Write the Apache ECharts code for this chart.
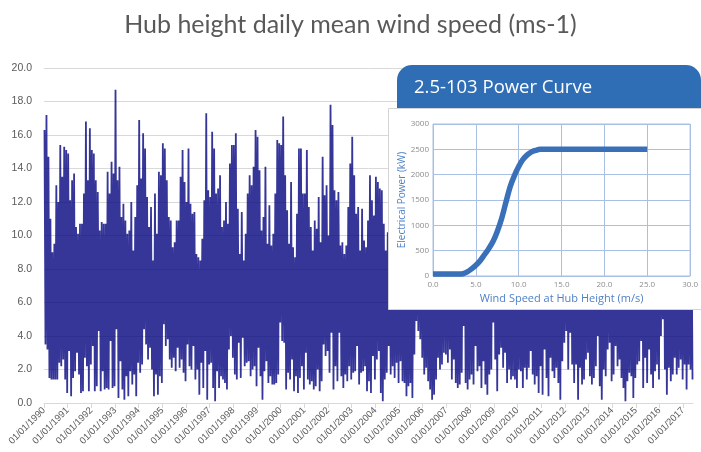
<!DOCTYPE html>
<html>
<head>
<meta charset="utf-8">
<script src="https://cdn.jsdelivr.net/npm/echarts@6/dist/echarts.min.js"></script>
<style>
html,body{margin:0;padding:0;background:#fff;}
#chart{width:701px;height:452px;}
</style>
</head>
<body>
<div id="chart"></div>
<script>
// Monthly upper envelope of daily mean wind speed (m/s), Jan 1990 .. May 2017
const monthlyHigh = [
  16.3, 17.2, 14.7, 11.0, 9.0, 9.5, 13.0, 12.0, 15.4, 13.5, 15.3, 15.1,
  14.9, 12.1, 13.3, 13.7, 10.5, 10.1, 10.7, 10.7, 12.5, 16.8, 13.3, 16.4,
  15.1, 14.9, 13.3, 12.6, 10.3, 10.8, 10.7, 10.7, 13.8, 12.5, 14.4, 13.7,
  18.7, 13.3, 14.1, 11.1, 11.9, 10.9, 10.1, 10.3, 12.0, 9.1, 11.1, 13.0,
  16.9, 13.4, 16.1, 15.2, 12.3, 10.5, 11.7, 8.5, 12.5, 10.1, 13.8, 13.6,
  15.5, 15.2, 13.3, 11.1, 10.9, 9.3, 9.6, 10.9, 10.9, 13.5, 15.1, 13.2,
  12.0, 15.2, 11.9, 11.3, 11.4, 8.9, 8.7, 8.5, 9.8, 12.1, 17.3, 12.7,
  12.3, 16.2, 15.2, 12.5, 12.8, 13.6, 10.5, 10.9, 12.0, 10.7, 14.3, 15.4,
  15.4, 16.1, 11.6, 8.9, 11.4, 8.5, 10.1, 12.5, 13.6, 13.0, 14.1, 16.3,
  15.9, 13.9, 10.3, 11.1, 14.1, 9.5, 11.8, 9.4, 10.1, 12.5, 15.7, 15.5,
  15.4, 17.1, 13.6, 11.5, 9.5, 13.2, 9.3, 8.7, 11.3, 15.2, 15.2, 12.5,
  12.5, 15.1, 11.7, 10.5, 9.1, 10.9, 10.4, 12.3, 9.6, 14.7, 12.4, 13.0,
  10.0, 17.8, 16.6, 12.7, 12.1, 12.6, 9.4, 9.6, 8.9, 9.4, 11.7, 14.3,
  15.9, 13.6, 11.3, 11.7, 9.1, 11.6, 9.7, 9.3, 10.9, 13.6, 12.1, 11.2,
  13.5, 13.2, 12.8, 12.7, 10.7, 9.1, 10.2, 10.5, 11.5, 13.0, 14.5, 15.0,
  15.5, 14.0, 13.0, 11.5, 10.5, 9.5, 9.8, 10.2, 11.5, 12.5, 14.0, 14.8,
  13.8, 12.5, 14.2, 11.8, 11.0, 9.6, 9.2, 10.4, 11.2, 13.5, 14.6, 15.2,
  16.0, 14.4, 13.1, 10.8, 11.4, 9.8, 10.6, 9.9, 11.8, 12.2, 14.9, 13.6,
  15.8, 16.2, 14.0, 11.6, 9.7, 10.5, 9.9, 11.0, 12.4, 13.3, 14.1, 13.0,
  14.6, 12.8, 13.9, 11.2, 10.9, 9.5, 10.3, 11.7, 10.8, 12.9, 15.7, 12.4,
  11.6, 12.2, 13.4, 10.6, 9.9, 9.2, 10.1, 10.7, 12.5, 12.0, 13.8, 11.3,
  13.2, 14.9, 12.1, 11.0, 12.6, 10.4, 9.6, 10.2, 12.9, 13.7, 14.5, 16.4,
  15.1, 13.0, 12.3, 11.8, 10.2, 10.9, 9.4, 9.8, 11.6, 12.7, 13.5, 14.2,
  13.9, 12.6, 11.7, 12.0, 10.8, 9.9, 10.0, 9.7, 11.3, 13.6, 14.1, 16.8,
  15.9, 16.3, 13.5, 11.1, 10.3, 9.6, 9.3, 10.9, 10.2, 13.2, 12.8, 15.0,
  16.1, 14.4, 13.8, 11.5, 12.2, 10.6, 10.1, 11.4, 10.0, 11.9, 15.3, 16.0,
  15.2, 14.7, 12.4, 11.3, 10.0, 9.5, 9.8, 10.6, 11.1, 11.7, 13.4, 14.6,
  15.4, 14.9, 13.7, 11.6, 10.8
];
// Monthly lower envelope
const monthlyLow = [
  3.5, 3.2, 1.5, 1.4, 1.4, 1.4, 1.4, 2.4, 2.2, 2.6, 1.4, 0.6,
  3.1, 0.4, 1.5, 1.9, 3.0, 1.7, 0.6, 0.7, 2.7, 2.2, 0.7, 2.3,
  3.4, 0.7, 1.0, 4.3, 0.7, 1.9, 0.8, 0.9, 0.8, 3.7, 0.9, 1.0,
  4.4, 0.3, 2.5, 0.8, 0.2, 1.6, 0.4, 1.9, 1.1, 1.7, 0.4, 2.4,
  1.8, 2.3, 4.4, 3.5, 2.6, 3.3, 2.0, 0.4, 1.7, 0.5, 1.6, 1.2,
  4.7, 3.4, 3.8, 2.6, 2.1, 2.7, 1.9, 3.3, 2.1, 2.6, 1.8, 1.3,
  3.5, 2.2, 2.0, 3.4, 1.4, 2.0, 0.5, 2.4, 0.9, 3.1, 0.2, 2.3,
  2.4, 0.9, 0.1, 1.9, 0.9, 1.6, 1.4, 1.2, 0.8, 3.2, 4.0, 2.7,
  1.7, 1.4, 3.6, 1.5, 3.9, 2.2, 2.4, 2.5, 1.6, 2.0, 2.2, 1.0,
  3.3, 1.6, 0.2, 1.9, 2.5, 1.2, 1.6, 1.1, 1.1, 1.2, 1.7, 4.8,
  3.7, 3.6, 0.8, 1.8, 1.4, 2.6, 0.7, 1.6, 0.6, 1.5, 2.2, 0.8,
  3.0, 1.4, 1.1, 1.3, 0.8, 1.0, 2.0, 0.7, 1.3, 3.5, 2.8, 3.1,
  1.8, 4.2, 0.8, 2.2, 1.3, 4.2, 1.6, 0.9, 1.7, 1.3, 2.2, 1.4,
  1.8, 1.9, 3.4, 1.1, 1.8, 1.9, 2.2, 0.7, 1.3, 0.6, 2.8, 1.4,
  2.6, 3.1, 0.6, 0.1, 1.4, 1.8, 3.4, 1.7, 2.2, 1.5, 2.4, 1.2,
  2.5, 1.3, 1.2, 0.4, 1.0, 1.2, 0.3, 2.9, 4.9, 4.3, 3.8, 2.7,
  1.7, 2.1, 1.3, 0.8, 0.2, 0.5, 1.4, 2.7, 2.0, 2.3, 3.0, 2.9,
  2.4, 3.2, 1.4, 2.6, 1.2, 0.9, 1.1, 1.8, 4.6, 1.2, 0.8, 1.4,
  1.7, 1.1, 3.4, 1.9, 2.2, 0.9, 2.5, 1.1, 0.5, 1.7, 2.0, 4.8,
  2.6, 0.7, 2.9, 3.3, 2.1, 3.0, 1.2, 2.0, 1.4, 1.6, 1.4, 0.9,
  2.0, 1.9, 0.9, 2.1, 1.4, 2.1, 3.1, 1.7, 1.1, 1.6, 0.6, 2.2,
  0.5, 3.2, 1.5, 0.4, 2.7, 1.9, 1.5, 2.1, 1.2, 0.2, 2.5, 3.6,
  4.3, 2.0, 4.2, 2.3, 1.2, 2.3, 0.2, 2.1, 1.1, 1.4, 2.6, 3.0,
  1.6, 1.1, 1.5, 2.2, 4.0, 1.0, 0.2, 2.0, 1.6, 3.2, 3.6, 1.3,
  1.7, 3.4, 2.2, 2.6, 1.5, 0.9, 0.1, 1.3, 1.8, 1.6, 0.3, 1.5,
  2.3, 2.5, 3.7, 0.9, 2.7, 1.2, 3.2, 1.7, 0.9, 1.9, 2.3, 1.4,
  4.0, 5.0, 2.0, 0.5, 2.1, 1.3, 1.7, 2.7, 1.7, 2.1, 2.6, 1.4,
  2.3, 0.8, 2.3, 2.0, 1.4
];
const startYear = 1990;
const tickYears = [1990,1991,1992,1993,1994,1995,1996,1997,1998,1999,2000,2001,2002,2003,
  2004,2005,2006,2007,2008,2009,2010,2011,2012,2013,2014,2015,2016,2017];

// Power curve (inset)
const powerSpeed = [0, 3, 3.5, 4, 4.5, 5, 5.5, 6, 6.5, 7, 7.5, 8, 8.5, 9, 9.5, 10, 10.5, 11, 11.5, 12, 12.5, 13, 25];
const powerKW    = [40, 40, 45, 80, 140, 210, 300, 420, 540, 680, 880, 1130, 1450, 1760, 1980, 2160, 2300, 2390, 2450, 2480, 2500, 2500, 2500];

const windData = [];
for (let m = 0; m < monthlyHigh.length; m++) {
  windData.push([startYear + (m + 0.25) / 12, monthlyHigh[m]]);
  windData.push([startYear + (m + 0.75) / 12, monthlyLow[m]]);
}
const xMax = startYear + monthlyHigh.length / 12;
const powerData = powerSpeed.map((s, i) => [s, powerKW[i]]);

const chart = echarts.init(document.getElementById('chart'), null, {renderer: 'canvas'});
const gridBlue = '#a9bfe3';
const nameBlue = '#4f81c7';
chart.setOption({
  animation: false,
  backgroundColor: '#ffffff',
  title: {
    text: 'Hub height daily mean wind speed (ms-1)',
    left: 'center', top: 7,
    textStyle: {fontSize: 25, fontWeight: 'normal', color: '#595959', fontFamily: 'Lato'}
  },
  grid: [
    {left: 44, right: 8, top: 68, bottom: 49},
    {left: 433, top: 124, width: 265, height: 152, show: true, borderColor: gridBlue, borderWidth: 1, backgroundColor: '#fff', z: 20}
  ],
  xAxis: [
    {
      gridIndex: 0, type: 'value', min: startYear, max: xMax,
      axisLine: {show: true, lineStyle: {color: '#d9d9d9'}},
      axisTick: {show: true, length: 5, customValues: tickYears, lineStyle: {color: '#d9d9d9'}},
      splitLine: {show: false},
      axisLabel: {
        customValues: tickYears, rotate: 45, fontSize: 9.5, color: '#595959', margin: 6,
        fontFamily: 'Liberation Sans',
        formatter: v => '01/01/' + Math.round(v)
      }
    },
    {
      gridIndex: 1, type: 'value', min: 0, max: 30, interval: 5, z: 20,
      axisLine: {show: false}, axisTick: {show: false},
      splitLine: {show: true, lineStyle: {color: gridBlue}},
      axisLabel: {formatter: v => v.toFixed(1), fontSize: 8, color: '#8c8c8c', margin: 5, fontFamily: 'Open Sans'},
      name: 'Wind Speed at Hub Height (m/s)', nameLocation: 'middle', nameGap: 17,
      nameTextStyle: {color: nameBlue, fontSize: 11, fontFamily: 'Open Sans'}
    }
  ],
  yAxis: [
    {
      gridIndex: 0, type: 'value', min: 0, max: 20, interval: 2,
      axisLine: {show: false}, axisTick: {show: false},
      splitLine: {show: true, lineStyle: {color: '#d9d9d9'}},
      axisLabel: {formatter: v => v.toFixed(1), fontSize: 10.5, color: '#595959', margin: 12, fontFamily: 'Liberation Sans'}
    },
    {
      gridIndex: 1, type: 'value', min: 0, max: 3000, interval: 500, z: 20,
      axisLine: {show: false}, axisTick: {show: false},
      splitLine: {show: true, lineStyle: {color: gridBlue}},
      axisLabel: {formatter: v => String(v), fontSize: 8, color: '#8c8c8c', margin: 4, fontFamily: 'Open Sans'},
      name: 'Electrical Power (kW)', nameLocation: 'middle', nameGap: 19,
      nameTextStyle: {color: nameBlue, fontSize: 10, fontFamily: 'Open Sans'}
    }
  ],
  graphic: [
    {type: 'rect', z: 10, shape: {x: 388.5, y: 108.5, width: 320, height: 201},
     style: {fill: '#ffffff', stroke: '#d4d4d4', lineWidth: 1}},
    {type: 'rect', z: 10, shape: {x: 397, y: 65, width: 304, height: 43, r: [15, 15, 0, 0]},
     style: {fill: '#2F6EB5'}},
    {type: 'text', z: 11, x: 414, y: 88,
     style: {text: '2.5-103 Power Curve', fill: '#ffffff', fontSize: 18.5, fontFamily: 'Open Sans', verticalAlign: 'middle'}}
  ],
  series: [
    {
      type: 'line', xAxisIndex: 0, yAxisIndex: 0, data: windData,
      showSymbol: false, sampling: null, z: 2,
      lineStyle: {width: 1.8, color: 'rgba(10,10,130,0.82)', join: 'bevel'}
    },
    {
      type: 'line', xAxisIndex: 1, yAxisIndex: 1, data: powerData,
      showSymbol: false, smooth: 0.3, z: 21,
      lineStyle: {width: 5.5, color: '#3A70B8'}
    }
  ]
});
</script>
</body>
</html>
